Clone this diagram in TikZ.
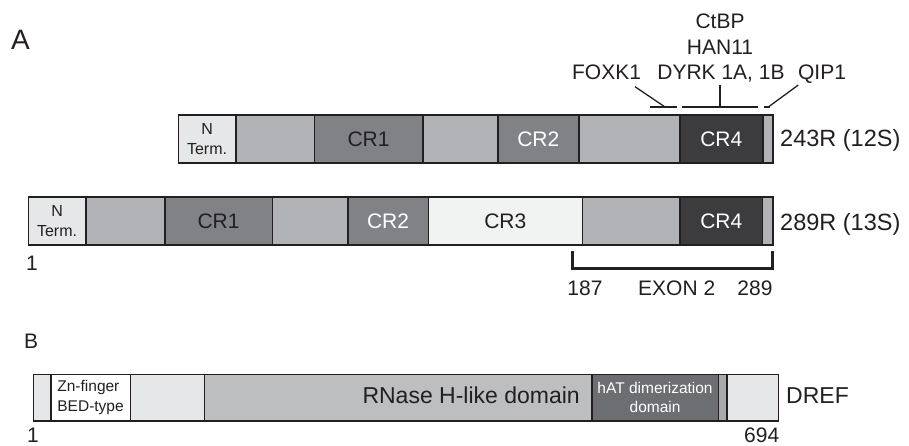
\documentclass[tikz,border=0pt]{standalone}
\usepackage{fontspec}
\setmainfont{Liberation Sans}
\definecolor{ink}{HTML}{231F20}
\definecolor{edge}{HTML}{231F20}
\definecolor{nterm}{HTML}{E6E7E8}
\definecolor{linker}{HTML}{B1B3B6}
\definecolor{crmid}{HTML}{808285}
\definecolor{crlight}{HTML}{F1F2F2}
\definecolor{crdark}{HTML}{3C3C3E}
\definecolor{rnase}{HTML}{BCBEC0}
\definecolor{hat}{HTML}{6D6E71}
\definecolor{smallseg}{HTML}{A7A9AC}
\begin{document}
\begin{tikzpicture}[x=1pt,y=-1pt,
  seg/.style={draw=edge, line width=1.6pt, inner sep=0pt, anchor=north west,
    font=\fontsize{21}{21}\selectfont, text=ink},
  barA/.style={seg, minimum height=47.5pt},
  barB/.style={seg, minimum height=46.5pt},
  lab/.style={inner sep=0pt, font=\fontsize{21}{24}\selectfont, text=ink},
  biglab/.style={lab, font=\fontsize{23.5}{24}\selectfont},
  small/.style={align=center, font=\fontsize{16}{20}\selectfont},
  ann/.style={draw=ink, line width=1.3pt},
  bracket/.style={draw=ink, line width=3pt, line join=miter}]
\useasboundingbox (0,0) rectangle (909,446);

% panel labels
\node[lab, anchor=base west, font=\fontsize{28}{28}\selectfont] (pA) at (11,50) {A};
\node[lab, anchor=base west] (pB) at (24,348) {B};

% 243R bar
\node[barA, fill=nterm, minimum width=57.5pt, small] (a1) at (177.5,114.5) {N\\Term.};
\node[barA, fill=linker, minimum width=78.5pt] (a2) at (235,114.5) {};
\node[barA, fill=crmid, minimum width=108.5pt] (a3) at (313.5,114.5) {CR1};
\node[barA, fill=linker, minimum width=75pt] (a4) at (422,114.5) {};
\node[barA, fill=crmid, minimum width=81pt, text=white] (a5) at (497,114.5) {CR2};
\node[barA, fill=linker, minimum width=101pt] (a6) at (578,114.5) {};
\node[barA, fill=crdark, minimum width=83pt, text=white] (a7) at (679,114.5) {CR4};
\node[barA, fill=linker, minimum width=10pt] (a8) at (762,114.5) {};
\node[biglab, anchor=base west] (n243) at (780,146.5) {243R (12S)};

% interaction partners
\node[lab, anchor=base] (ctbp) at (720,28.3) {CtBP};
\node[lab, anchor=base] (han) at (720,54.3) {HAN11};
\node[lab, anchor=base] (dyrk) at (721,79.8) {DYRK 1A, 1B};
\node[lab, anchor=base] (foxk) at (606.5,79.8) {FOXK1};
\node[lab, anchor=base] (qip) at (822,79.8) {QIP1};

\coordinate (fd1) at (635,86.7);
\coordinate (fd2) at (665,107);
\coordinate (fh1) at (650,107);
\coordinate (fh2) at (676.7,107);
\coordinate (dh1) at (681.7,107);
\coordinate (dh2) at (758.3,107);
\coordinate (dv1) at (720,85);
\coordinate (dv2) at (720,107);
\coordinate (qh1) at (764,107);
\coordinate (qh2) at (770,107);
\coordinate (qd1) at (768.3,107);
\coordinate (qd2) at (798.3,85);
\draw[ann] (fd1) -- (fd2);
\draw[ann] (fh1) -- (fh2);
\draw[ann] (dh1) -- (dh2);
\draw[ann] (dv1) -- (dv2);
\draw[ann] (qh1) -- (qh2);
\draw[ann] (qd1) -- (qd2);

% 289R bar
\node[barA, fill=nterm, minimum width=57.5pt, small] (b1) at (27.5,196.5) {N\\Term.};
\node[barA, fill=linker, minimum width=79pt] (b2) at (85,196.5) {};
\node[barA, fill=crmid, minimum width=107.5pt] (b3) at (164,196.5) {CR1};
\node[barA, fill=linker, minimum width=75.5pt] (b4) at (271.5,196.5) {};
\node[barA, fill=crmid, minimum width=80.5pt, text=white] (b5) at (347,196.5) {CR2};
\node[barA, fill=crlight, minimum width=154pt] (b6) at (427.5,196.5) {CR3};
\node[barA, fill=linker, minimum width=97.8pt] (b7) at (581.5,196.5) {};
\node[barA, fill=crdark, minimum width=82.4pt, text=white] (b8) at (679.3,196.5) {CR4};
\node[barA, fill=linker, minimum width=10.6pt] (b9) at (761.7,196.5) {};
\node[biglab, anchor=base west] (n289) at (780,230) {289R (13S)};
\node[lab, anchor=base west] (one1) at (26,270) {1};

% exon 2 bracket
\coordinate (e1) at (572.7,251);
\coordinate (e2) at (572.7,268.5);
\coordinate (e3) at (772.3,268.5);
\coordinate (e4) at (772.3,251);
\draw[bracket] (e1) -- (e2) -- (e3) -- (e4);
\node[lab, anchor=base] (s187) at (585,295) {187};
\node[lab, anchor=base] (exon) at (676.7,295) {EXON 2};
\node[lab, anchor=base] (s289) at (755,295) {289};

% DREF bar
\node[barB, fill=nterm, minimum width=17.5pt] (c1) at (32.5,373.5) {};
\node[barB, fill=white, minimum width=79.5pt, align=left, font=\fontsize{15.5}{20}\selectfont] (c2) at (50,373.5) {Zn-finger\\BED-type};
\node[barB, fill=nterm, minimum width=74pt] (c3) at (129.5,373.5) {};
\node[barB, fill=rnase, minimum width=387.5pt] (c4) at (203.5,373.5) {};
\node[barB, fill=hat, minimum width=126.5pt, text=white, align=center, font=\fontsize{15.5}{19}\selectfont] (c5) at (591,373.5) {hAT dimerization\\domain};
\node[barB, fill=smallseg, minimum width=8.5pt] (c6) at (717.5,373.5) {};
\node[barB, fill=nterm, minimum width=51.5pt] (c7) at (726,373.5) {};
\node[lab, anchor=base east, font=\fontsize{23}{23}\selectfont] (rnl) at (580,403.3) {RNase H-like domain};
\node[lab, anchor=base west, font=\fontsize{23}{23}\selectfont] (dref) at (786,403.5) {DREF};
\node[lab, anchor=base west] (one2) at (27,442.7) {1};
\node[lab, anchor=base] (s694) at (761.7,442.7) {694};
\end{tikzpicture}
\end{document}
